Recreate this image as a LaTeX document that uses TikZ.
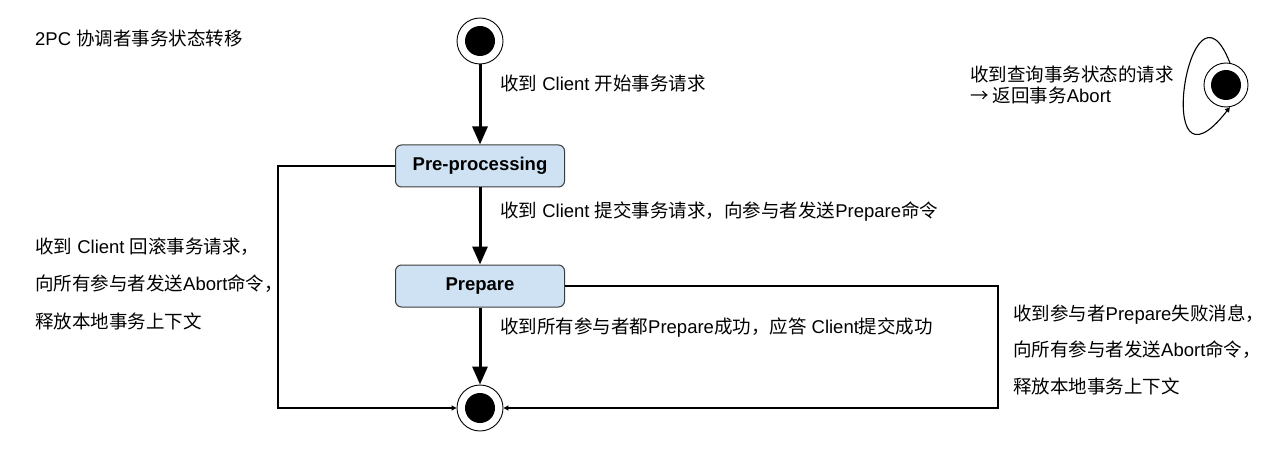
\documentclass[tikz,border=0pt]{standalone}
\usepackage{fontspec}
\setmainfont{Liberation Sans}
\newfontfamily\cjk{Noto Sans CJK SC}
\newcommand\zh[1]{{\cjk #1}}
\usetikzlibrary{arrows.meta}
\definecolor{boxfill}{HTML}{CFE2F3}
\definecolor{boxline}{HTML}{3C3C3C}
\tikzset{
  lbl/.style={anchor=west, inner sep=0pt, font=\fontsize{18.5}{22}\selectfont},
  state/.style={draw=boxline, line width=1pt, fill=boxfill, rounded corners=6pt,
    minimum width=169pt, minimum height=42pt, inner sep=0pt,
    font=\fontsize{18.5}{22}\selectfont\bfseries},
  pseudo/.style={circle, draw=black, line width=0.9pt, fill=white, minimum size=#1, inner sep=0pt,
    path picture={\fill[black] (path picture bounding box.center) circle (15pt);}},
  mainarrow/.style={line width=3pt, -{Triangle[length=18pt,width=15pt]}},
  thinarrow/.style={line width=1.1pt, -{Triangle[length=5pt,width=5pt]}},
}
\begin{document}
\begin{tikzpicture}[x=1pt,y=-1pt]
\useasboundingbox (0,0) rectangle (1276,457);
\node[lbl] (title) at (35,38) {2PC \zh{协调者事务状态转移}};
\node[pseudo=46pt] (s) at (480,41) {};
\node[state] (pre) at (480,166) {Pre-processing};
\node[state] (prep) at (480,286) {Prepare};
\node[pseudo=46pt] (e) at (480,408) {};
\node[pseudo=44pt] (q) at (1226,85) {};
\draw[mainarrow] (s) -- (pre);
\draw[mainarrow] (pre) -- (prep);
\draw[mainarrow] (prep) -- (e);
\node[lbl] (l1) at (500,83) {\zh{收到} Client \zh{开始事务请求}};
\node[lbl] (l2) at (500,212) {\zh{收到} Client \zh{提交事务请求，向参与者发送}Prepare\zh{命令}};
\node[lbl] (l3) at (500,328) {\zh{收到所有参与者都}Prepare\zh{成功，应答} Client\zh{提交成功}};
\coordinate (L) at (278,166);
\coordinate (R) at (998,286);
\draw[thinarrow] (pre.west) -- (L) |- (e.west);
\draw[thinarrow] (prep.east) -- (R) |- (e.east);
\node[lbl, align=left, font=\fontsize{18.5}{37.5}\selectfont] (ll) at (35,283.5)
  {\zh{收到} Client \zh{回滚事务请求，}\\ \zh{向所有参与者发送}Abort\zh{命令，}\\ \zh{释放本地事务上下文}};
\node[lbl, align=left, font=\fontsize{18.5}{36.5}\selectfont] (rl) at (1013,349.5)
  {\zh{收到参与者}Prepare\zh{失败消息，}\\ \zh{向所有参与者发送}Abort\zh{命令，}\\ \zh{释放本地事务上下文}};
\node[lbl, align=left, font=\fontsize{18.5}{21}\selectfont] (ql) at (970,84.5)
  {\zh{收到查询事务状态的请求}\\ \zh{→ 返回事务}Abort};
\draw[thinarrow] (q.80) .. controls (1190,-40) and (1150,210) .. (q.-80);
\end{tikzpicture}
\end{document}
